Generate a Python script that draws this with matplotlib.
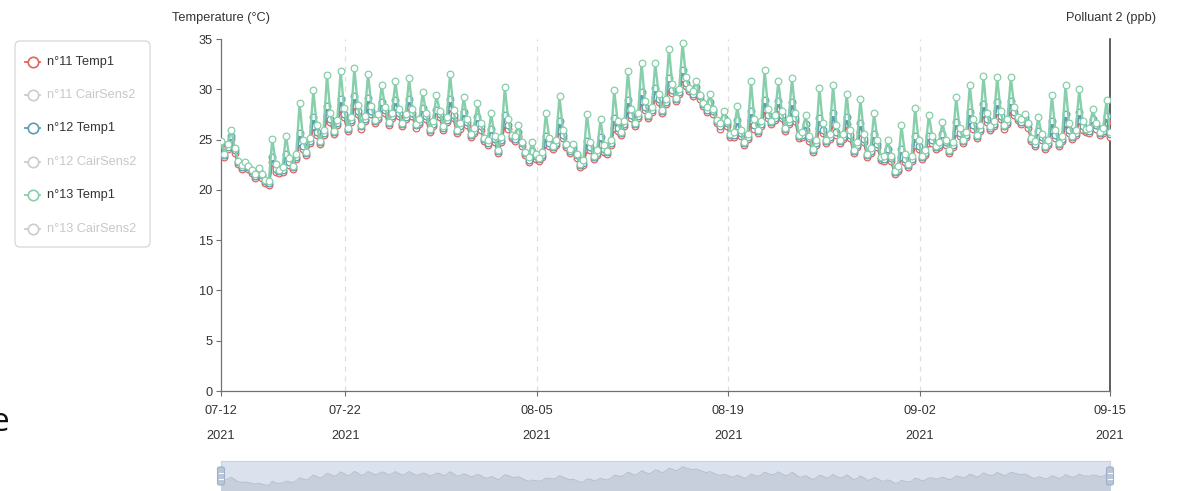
import pandas as pd
import matplotlib
matplotlib.use("Agg")
import matplotlib.pyplot as plt
from matplotlib.patches import FancyBboxPatch
from matplotlib.lines import Line2D

plt.rcParams["font.family"] = ["Liberation Sans", "DejaVu Sans"]

# ---- data: 6-hourly readings starting 2021-07-12 22:00 ----
start_time = "2021-07-12 22:00"
step = "6h"

# n°11 Temp1 (one row per day: 04h, 10h, 16h, 22h)
temp_n11 = [24.6,
    23.3, 24.1, 25.1, 23.7,  22.6, 22.1, 22.4, 22.1,  21.7, 21.2, 21.7, 21.2,
    20.7, 20.5, 22.8, 21.8,  21.7, 21.8, 22.9, 22.5,  22.1, 23.1, 24.8, 24.1,
    23.5, 24.7, 26.3, 25.5,  24.6, 25.5, 27.3, 26.7,  25.6, 26.4, 28.1, 27.2,
    25.9, 26.7, 28.4, 27.5,  26.1, 26.8, 28.3, 27.5,  26.6, 27.0, 28.1, 27.6,
    26.4, 27.1, 28.3, 27.3,  26.3, 27.0, 28.3, 27.3,  26.2, 26.5, 27.5, 27.0,
    25.8, 26.3, 27.3, 27.2,  26.0, 26.7, 28.2, 27.1,  25.7, 26.1, 27.1, 26.4,
    25.3, 25.7, 26.6, 26.0,  24.9, 24.5, 25.5, 24.8,  23.7, 24.8, 26.5, 26.1,
    25.2, 24.9, 25.4, 24.4,  23.5, 22.8, 23.5, 23.1,  22.9, 23.3, 24.6, 24.4,
    24.1, 24.5, 26.0, 25.2,  24.3, 23.7, 24.0, 23.2,  22.3, 22.5, 24.1, 24.0,
    23.1, 23.5, 24.6, 23.8,  23.6, 24.5, 26.2, 25.9,  25.5, 26.3, 28.0, 27.1,
    26.3, 27.1, 28.8, 27.9,  27.1, 27.7, 29.2, 28.7,  27.6, 28.5, 30.2, 29.6,
    28.8, 29.5, 31.1, 30.3,  29.8, 29.3, 29.8, 29.0,  28.3, 27.7, 28.3, 27.5,
    26.6, 26.1, 26.7, 26.3,  25.3, 25.3, 26.3, 25.4,  24.5, 25.1, 26.9, 26.1,
    25.7, 26.3, 28.0, 27.1,  26.5, 26.9, 28.1, 27.1,  25.9, 26.5, 27.9, 26.8,
    25.2, 25.3, 26.0, 24.9,  23.8, 24.5, 26.2, 25.7,  24.7, 25.1, 26.7, 25.5,
    24.7, 25.1, 26.5, 25.2,  23.7, 24.3, 25.8, 24.8,  23.3, 23.7, 24.9, 24.3,
    23.0, 22.9, 23.6, 22.9,  21.6, 21.9, 23.3, 22.8,  22.3, 22.9, 24.5, 24.1,
    23.1, 23.5, 24.7, 24.7,  24.1, 24.3, 25.1, 24.5,  23.7, 24.3, 25.8, 25.4,
    24.7, 25.3, 26.9, 26.1,  25.2, 25.9, 27.6, 26.7,  26.0, 26.3, 27.8, 27.0,
    26.1, 26.5, 28.0, 27.4,  26.9, 26.5, 26.9, 26.2,  24.9, 24.4, 25.3, 25.0,
    24.1, 24.5, 26.0, 25.2,  24.4, 24.9, 26.6, 25.7,  25.1, 25.5, 26.9, 26.0,
    25.8, 25.7, 26.4, 26.1,  25.5, 25.7, 26.7, 25.3]

# n°12 Temp1
temp_n12 = [24.8,
    23.5, 24.3, 25.4, 24.0,  22.8, 22.3, 22.6, 22.3,  21.9, 21.4, 21.9, 21.5,
    20.9, 20.7, 23.3, 22.1,  21.9, 22.0, 23.6, 22.8,  22.3, 23.3, 25.7, 24.4,
    23.7, 24.9, 27.2, 25.8,  24.8, 25.7, 28.3, 27.0,  25.8, 26.6, 29.0, 27.5,
    26.1, 26.9, 29.3, 27.8,  26.3, 27.0, 29.1, 27.8,  26.8, 27.2, 28.7, 27.9,
    26.6, 27.3, 28.9, 27.6,  26.5, 27.2, 29.0, 27.6,  26.4, 26.7, 28.1, 27.3,
    26.0, 26.5, 27.9, 27.5,  26.2, 26.9, 29.0, 27.4,  25.9, 26.3, 27.7, 26.7,
    25.5, 25.9, 27.2, 26.3,  25.1, 24.7, 26.1, 25.1,  23.9, 25.0, 27.4, 26.4,
    25.4, 25.1, 25.8, 24.7,  23.7, 23.0, 23.9, 23.4,  23.1, 23.5, 25.4, 24.7,
    24.3, 24.7, 26.8, 25.5,  24.5, 23.9, 24.3, 23.5,  22.5, 22.7, 24.9, 24.3,
    23.3, 23.7, 25.3, 24.1,  23.8, 24.7, 27.1, 26.2,  25.7, 26.5, 28.9, 27.4,
    26.5, 27.3, 29.7, 28.2,  27.3, 27.9, 30.1, 29.0,  27.8, 28.7, 31.1, 29.9,
    29.0, 29.7, 31.9, 30.6,  30.0, 29.5, 30.2, 29.3,  28.5, 27.9, 28.7, 27.8,
    26.8, 26.3, 27.1, 26.6,  25.5, 25.5, 26.9, 25.7,  24.7, 25.3, 27.8, 26.4,
    25.9, 26.5, 28.9, 27.4,  26.7, 27.1, 28.8, 27.4,  26.1, 26.7, 28.7, 27.1,
    25.4, 25.5, 26.5, 25.2,  24.0, 24.7, 27.1, 26.0,  24.9, 25.3, 27.6, 25.8,
    24.9, 25.3, 27.2, 25.5,  23.9, 24.5, 26.6, 25.1,  23.5, 23.9, 25.6, 24.6,
    23.2, 23.1, 24.1, 23.2,  21.8, 22.1, 24.1, 23.1,  22.5, 23.1, 25.4, 24.4,
    23.3, 23.7, 25.4, 25.0,  24.3, 24.5, 25.6, 24.8,  23.9, 24.5, 26.7, 25.7,
    24.9, 25.5, 27.7, 26.4,  25.4, 26.1, 28.5, 27.0,  26.2, 26.5, 28.7, 27.3,
    26.3, 26.7, 28.8, 27.7,  27.1, 26.7, 27.2, 26.5,  25.1, 24.6, 25.9, 25.3,
    24.3, 24.7, 26.8, 25.5,  24.6, 25.1, 27.5, 26.0,  25.3, 25.7, 27.7, 26.3,
    26.0, 25.9, 27.0, 26.4,  25.7, 25.9, 27.3, 25.6]

# n°13 Temp1
temp_n13 = [24.9,
    23.6, 24.6, 26.0, 24.2,  22.9, 22.5, 22.8, 22.4,  22.0, 21.6, 22.2, 21.6,
    21.0, 20.9, 25.1, 22.6,  22.0, 22.3, 25.4, 23.2,  22.4, 23.6, 28.6, 25.0,
    23.8, 25.2, 29.9, 26.4,  24.9, 26.0, 31.4, 27.6,  25.9, 26.9, 31.8, 28.1,
    26.2, 27.2, 32.1, 28.4,  26.4, 27.3, 31.5, 28.3,  26.9, 27.5, 30.4, 28.2,
    26.7, 27.6, 30.8, 28.0,  26.6, 27.5, 31.1, 28.0,  26.5, 27.0, 29.7, 27.6,
    26.1, 26.8, 29.4, 27.8,  26.3, 27.2, 31.5, 27.9,  26.0, 26.6, 29.2, 27.0,
    25.6, 26.2, 28.6, 26.6,  25.2, 25.0, 27.6, 25.4,  24.0, 25.3, 30.2, 27.0,
    25.5, 25.4, 26.4, 24.8,  23.8, 23.3, 24.8, 23.6,  23.2, 23.8, 27.6, 25.2,
    24.4, 25.0, 29.3, 26.0,  24.6, 24.1, 24.6, 23.6,  22.6, 23.0, 27.5, 24.8,
    23.4, 24.0, 27.0, 24.5,  23.9, 25.0, 29.9, 26.8,  25.8, 26.8, 31.8, 28.0,
    26.6, 27.6, 32.6, 28.8,  27.4, 28.2, 32.6, 29.5,  27.9, 29.0, 34.0, 30.5,
    29.1, 30.0, 34.6, 31.2,  30.1, 29.8, 30.8, 29.4,  28.6, 28.2, 29.5, 28.0,
    26.9, 26.6, 27.8, 26.8,  25.6, 25.8, 28.3, 26.0,  24.8, 25.6, 30.8, 27.0,
    26.0, 26.8, 31.9, 28.0,  26.8, 27.4, 30.8, 27.8,  26.2, 27.0, 31.1, 27.6,
    25.5, 25.8, 27.4, 25.4,  24.1, 25.0, 30.1, 26.6,  25.0, 25.6, 30.4, 26.4,
    25.0, 25.6, 29.5, 26.0,  24.0, 24.8, 29.0, 25.6,  23.6, 24.2, 27.6, 25.0,
    23.3, 23.4, 25.0, 23.4,  21.9, 22.4, 26.4, 23.6,  22.6, 23.4, 28.1, 25.0,
    23.4, 24.0, 27.4, 25.4,  24.4, 24.8, 26.7, 25.0,  24.0, 24.8, 29.2, 26.2,
    25.0, 25.8, 30.4, 27.0,  25.5, 26.4, 31.3, 27.6,  26.3, 26.8, 31.2, 27.8,
    26.4, 27.0, 31.2, 28.2,  27.2, 27.0, 27.5, 26.6,  25.2, 24.9, 27.2, 25.6,
    24.4, 25.0, 29.4, 26.0,  24.7, 25.4, 30.4, 26.6,  25.4, 26.0, 30.0, 26.8,
    26.1, 26.2, 28.0, 26.6,  25.8, 26.2, 28.9, 25.8]

legend_labels = ["n°11 Temp1", "n°11 CairSens2", "n°12 Temp1",
                 "n°12 CairSens2", "n°13 Temp1", "n°13 CairSens2"]
legend_shown = [True, False, True, False, True, False]

xtick_dates = ["2021-07-12 22:00", "2021-07-22 00:00", "2021-08-05 00:00",
               "2021-08-19 00:00", "2021-09-02 00:00", "2021-09-15 22:00"]
xtick_labels = ["07-12\n2021", "07-22\n2021", "08-05\n2021",
                "08-19\n2021", "09-02\n2021", "09-15\n2021"]
yticks = [0, 5, 10, 15, 20, 25, 30, 35]

# ---- style ----
C11, C12, C13 = "#e0645f", "#5b9db3", "#86cfaa"
GREY_OFF = "#cccccc"
AXIS = "#6e7079"
TXT = "#333333"
FS = 9.2

W, H = 1182, 491
fig = plt.figure(figsize=(W / 100, H / 100), dpi=100)


def box(x0, y0, x1, y1):
    return [x0 / W, 1 - y1 / H, (x1 - x0) / W, (y1 - y0) / H]


times = pd.date_range(start_time, periods=len(temp_n13), freq=step)
tick_pos = pd.to_datetime(xtick_dates, format="%Y-%m-%d %H:%M")

# ---- main chart ----
ax = fig.add_axes(box(221, 39, 1110, 391))
for vals, col in [(temp_n11, C11), (temp_n12, C12), (temp_n13, C13)]:
    ax.plot(times, vals, color=col, lw=1.7, marker="o", ms=4.8,
            mfc="white", mec=col, mew=0.9, zorder=3)

ax.set_xlim(times[0], times[-1])
ax.set_ylim(0, 35)
ax.set_yticks(yticks)
ax.set_xticks(tick_pos)
ax.set_xticklabels(xtick_labels)
for lab in ax.get_xticklabels():
    lab.set_linespacing(2.4)
for t in tick_pos[1:-1]:
    ax.axvline(t, color="#dedede", lw=0.9, ls=(0, (4, 4)), zorder=0)

for side in ["left", "bottom"]:
    ax.spines[side].set_color(AXIS)
    ax.spines[side].set_linewidth(0.9)
ax.spines["right"].set_color("#333333")
ax.spines["right"].set_linewidth(1.1)
ax.spines["top"].set_visible(False)
ax.tick_params(axis="y", length=3.6, width=0.8, color=AXIS, pad=2.2,
               labelsize=FS, labelcolor=TXT)
ax.tick_params(axis="x", length=3.6, width=0.8, color=AXIS, pad=6.5,
               labelsize=FS, labelcolor=TXT)

# ---- data zoom slider ----
sl = fig.add_axes(box(221, 461, 1110, 491))
sl.set_facecolor("#dbe2ed")
lo, hi = min(temp_n11), max(temp_n11)
rng = hi - lo
base = lo - 0.3 * rng
sl.fill_between(times, temp_n11, base, color="#c7cfdc", lw=0)
sl.plot(times, temp_n11, color="#b4bfcf", lw=0.7)
sl.set_xlim(times[0], times[-1])
sl.set_ylim(base, hi + 0.3 * rng)
sl.set_xticks([])
sl.set_yticks([])
for s in sl.spines.values():
    s.set_color("#c9d2e2")
    s.set_linewidth(0.8)

# ---- overlay in pixel coordinates ----
ov = fig.add_axes([0, 0, 1, 1])
ov.set_xlim(0, W)
ov.set_ylim(H, 0)
ov.axis("off")

ov.text(221, 18, "Temperature (°C)", ha="center", va="center",
        fontsize=FS, color=TXT)
ov.text(1111, 18, "Polluant 2 (ppb)", ha="center", va="center",
        fontsize=FS, color=TXT)

# legend
ov.add_patch(FancyBboxPatch((15, 41), 135, 206,
                            boxstyle="round,pad=0,rounding_size=5",
                            fc="white", ec="#d6d6d6", lw=0.9))
item_colors = [C11, GREY_OFF, C12, GREY_OFF, C13, GREY_OFF]
for i, (lab, shown) in enumerate(zip(legend_labels, legend_shown)):
    y = 61.5 + i * 33.4
    col = item_colors[i]
    ov.add_line(Line2D([25, 40], [y, y], color=col, lw=1.3))
    ov.plot([32.5], [y], marker="o", ms=7.5, mfc="white", mec=col, mew=1.2)
    ov.text(47, y, lab, ha="left", va="center", fontsize=FS,
            color=TXT if shown else "#c8c8c8")

# slider handles
for hx in (221, 1110):
    ov.add_patch(FancyBboxPatch((hx - 3.5, 467), 7, 18,
                                boxstyle="round,pad=0,rounding_size=2",
                                fc="#b9c5d8", ec="#9fb0c8", lw=0.8))
    for yy in (473, 479):
        ov.add_line(Line2D([hx - 1.8, hx + 1.8], [yy, yy],
                           color="white", lw=0.8))

# partial heading at the left edge
ov.text(-1, 431, "e", ha="center", va="baseline", fontsize=24,
        color="#111111", family=["Open Sans", "DejaVu Sans"])

fig.savefig("out.png", dpi=100)
